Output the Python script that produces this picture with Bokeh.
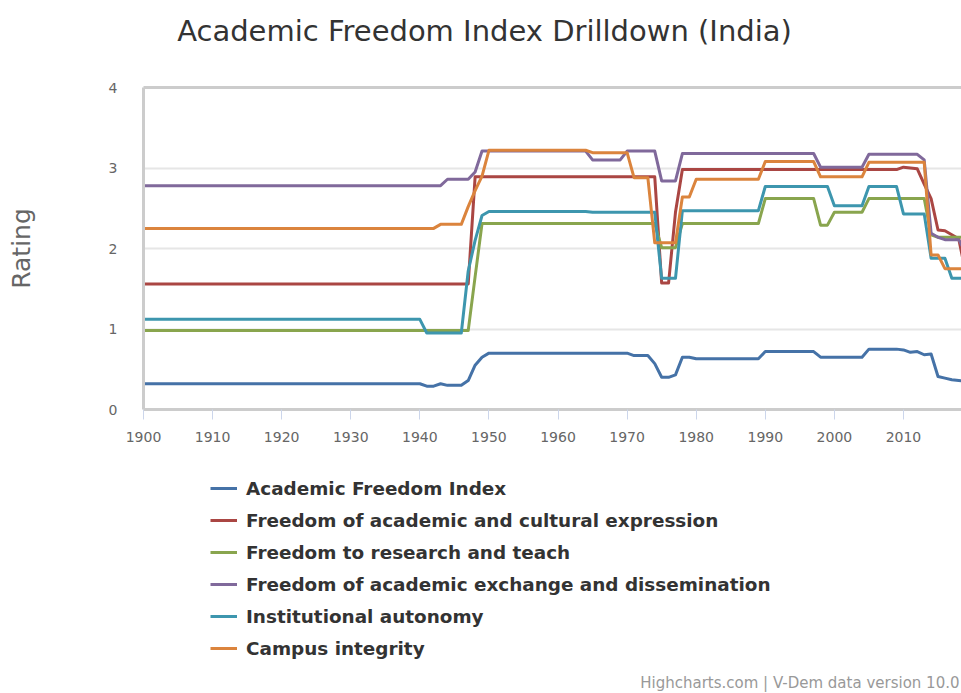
from bokeh.plotting import figure
from bokeh.layouts import column
from bokeh.models import Legend, LegendItem, FixedTicker, LinearAxis, Label, Range1d
from bokeh.embed import file_html
from bokeh.resources import INLINE

years = list(range(1900, 2020))
x_ticks = [1900, 1910, 1920, 1930, 1940, 1950, 1960, 1970, 1980, 1990, 2000, 2010]
y_ticks = [0, 1, 2, 3, 4]

afi = [
    0.32, 0.32, 0.32, 0.32, 0.32, 0.32, 0.32, 0.32, 0.32, 0.32,
    0.32, 0.32, 0.32, 0.32, 0.32, 0.32, 0.32, 0.32, 0.32, 0.32,
    0.32, 0.32, 0.32, 0.32, 0.32, 0.32, 0.32, 0.32, 0.32, 0.32,
    0.32, 0.32, 0.32, 0.32, 0.32, 0.32, 0.32, 0.32, 0.32, 0.32,
    0.32, 0.29, 0.29, 0.32, 0.30, 0.30, 0.30, 0.36, 0.55, 0.65,
    0.70, 0.70, 0.70, 0.70, 0.70, 0.70, 0.70, 0.70, 0.70, 0.70,
    0.70, 0.70, 0.70, 0.70, 0.70, 0.70, 0.70, 0.70, 0.70, 0.70,
    0.70, 0.67, 0.67, 0.67, 0.57, 0.40, 0.40, 0.43, 0.65, 0.65,
    0.63, 0.63, 0.63, 0.63, 0.63, 0.63, 0.63, 0.63, 0.63, 0.63,
    0.72, 0.72, 0.72, 0.72, 0.72, 0.72, 0.72, 0.72, 0.65, 0.65,
    0.65, 0.65, 0.65, 0.65, 0.65, 0.75, 0.75, 0.75, 0.75, 0.75,
    0.74, 0.71, 0.72, 0.68, 0.69, 0.41, 0.39, 0.37, 0.36, 0.35,
]

face = [
    1.56, 1.56, 1.56, 1.56, 1.56, 1.56, 1.56, 1.56, 1.56, 1.56,
    1.56, 1.56, 1.56, 1.56, 1.56, 1.56, 1.56, 1.56, 1.56, 1.56,
    1.56, 1.56, 1.56, 1.56, 1.56, 1.56, 1.56, 1.56, 1.56, 1.56,
    1.56, 1.56, 1.56, 1.56, 1.56, 1.56, 1.56, 1.56, 1.56, 1.56,
    1.56, 1.56, 1.56, 1.56, 1.56, 1.56, 1.56, 1.56, 2.89, 2.89,
    2.89, 2.89, 2.89, 2.89, 2.89, 2.89, 2.89, 2.89, 2.89, 2.89,
    2.89, 2.89, 2.89, 2.89, 2.89, 2.89, 2.89, 2.89, 2.89, 2.89,
    2.89, 2.89, 2.89, 2.89, 2.89, 1.57, 1.57, 2.45, 2.98, 2.98,
    2.98, 2.98, 2.98, 2.98, 2.98, 2.98, 2.98, 2.98, 2.98, 2.98,
    2.98, 2.98, 2.98, 2.98, 2.98, 2.98, 2.98, 2.98, 2.98, 2.98,
    2.98, 2.98, 2.98, 2.98, 2.98, 2.98, 2.98, 2.98, 2.98, 2.98,
    3.01, 3.00, 2.99, 2.80, 2.62, 2.23, 2.22, 2.17, 2.12, 1.70,
]

frt = [
    0.98, 0.98, 0.98, 0.98, 0.98, 0.98, 0.98, 0.98, 0.98, 0.98,
    0.98, 0.98, 0.98, 0.98, 0.98, 0.98, 0.98, 0.98, 0.98, 0.98,
    0.98, 0.98, 0.98, 0.98, 0.98, 0.98, 0.98, 0.98, 0.98, 0.98,
    0.98, 0.98, 0.98, 0.98, 0.98, 0.98, 0.98, 0.98, 0.98, 0.98,
    0.98, 0.98, 0.98, 0.98, 0.98, 0.98, 0.98, 0.98, 1.65, 2.31,
    2.31, 2.31, 2.31, 2.31, 2.31, 2.31, 2.31, 2.31, 2.31, 2.31,
    2.31, 2.31, 2.31, 2.31, 2.31, 2.31, 2.31, 2.31, 2.31, 2.31,
    2.31, 2.31, 2.31, 2.31, 2.31, 2.01, 2.01, 2.01, 2.31, 2.31,
    2.31, 2.31, 2.31, 2.31, 2.31, 2.31, 2.31, 2.31, 2.31, 2.31,
    2.62, 2.62, 2.62, 2.62, 2.62, 2.62, 2.62, 2.62, 2.29, 2.29,
    2.45, 2.45, 2.45, 2.45, 2.45, 2.62, 2.62, 2.62, 2.62, 2.62,
    2.62, 2.62, 2.62, 2.62, 2.17, 2.14, 2.14, 2.14, 2.14, 2.14,
]

faed = [
    2.78, 2.78, 2.78, 2.78, 2.78, 2.78, 2.78, 2.78, 2.78, 2.78,
    2.78, 2.78, 2.78, 2.78, 2.78, 2.78, 2.78, 2.78, 2.78, 2.78,
    2.78, 2.78, 2.78, 2.78, 2.78, 2.78, 2.78, 2.78, 2.78, 2.78,
    2.78, 2.78, 2.78, 2.78, 2.78, 2.78, 2.78, 2.78, 2.78, 2.78,
    2.78, 2.78, 2.78, 2.78, 2.86, 2.86, 2.86, 2.86, 2.95, 3.21,
    3.21, 3.21, 3.21, 3.21, 3.21, 3.21, 3.21, 3.21, 3.21, 3.21,
    3.21, 3.21, 3.21, 3.21, 3.21, 3.10, 3.10, 3.10, 3.10, 3.10,
    3.21, 3.21, 3.21, 3.21, 3.21, 2.84, 2.84, 2.84, 3.18, 3.18,
    3.18, 3.18, 3.18, 3.18, 3.18, 3.18, 3.18, 3.18, 3.18, 3.18,
    3.18, 3.18, 3.18, 3.18, 3.18, 3.18, 3.18, 3.18, 3.01, 3.01,
    3.01, 3.01, 3.01, 3.01, 3.01, 3.17, 3.17, 3.17, 3.17, 3.17,
    3.17, 3.17, 3.17, 3.10, 2.19, 2.14, 2.11, 2.11, 2.11, 1.95,
]

ia = [
    1.12, 1.12, 1.12, 1.12, 1.12, 1.12, 1.12, 1.12, 1.12, 1.12,
    1.12, 1.12, 1.12, 1.12, 1.12, 1.12, 1.12, 1.12, 1.12, 1.12,
    1.12, 1.12, 1.12, 1.12, 1.12, 1.12, 1.12, 1.12, 1.12, 1.12,
    1.12, 1.12, 1.12, 1.12, 1.12, 1.12, 1.12, 1.12, 1.12, 1.12,
    1.12, 0.95, 0.95, 0.95, 0.95, 0.95, 0.95, 1.72, 2.10, 2.41,
    2.46, 2.46, 2.46, 2.46, 2.46, 2.46, 2.46, 2.46, 2.46, 2.46,
    2.46, 2.46, 2.46, 2.46, 2.46, 2.45, 2.45, 2.45, 2.45, 2.45,
    2.45, 2.45, 2.45, 2.45, 2.45, 1.63, 1.63, 1.63, 2.47, 2.47,
    2.47, 2.47, 2.47, 2.47, 2.47, 2.47, 2.47, 2.47, 2.47, 2.47,
    2.77, 2.77, 2.77, 2.77, 2.77, 2.77, 2.77, 2.77, 2.77, 2.77,
    2.53, 2.53, 2.53, 2.53, 2.53, 2.77, 2.77, 2.77, 2.77, 2.77,
    2.43, 2.43, 2.43, 2.43, 1.88, 1.88, 1.88, 1.63, 1.63, 1.63,
]

ci = [
    2.25, 2.25, 2.25, 2.25, 2.25, 2.25, 2.25, 2.25, 2.25, 2.25,
    2.25, 2.25, 2.25, 2.25, 2.25, 2.25, 2.25, 2.25, 2.25, 2.25,
    2.25, 2.25, 2.25, 2.25, 2.25, 2.25, 2.25, 2.25, 2.25, 2.25,
    2.25, 2.25, 2.25, 2.25, 2.25, 2.25, 2.25, 2.25, 2.25, 2.25,
    2.25, 2.25, 2.25, 2.30, 2.30, 2.30, 2.30, 2.52, 2.72, 2.90,
    3.22, 3.22, 3.22, 3.22, 3.22, 3.22, 3.22, 3.22, 3.22, 3.22,
    3.22, 3.22, 3.22, 3.22, 3.22, 3.19, 3.19, 3.19, 3.19, 3.19,
    3.19, 2.88, 2.88, 2.88, 2.07, 2.07, 2.07, 2.07, 2.64, 2.64,
    2.86, 2.86, 2.86, 2.86, 2.86, 2.86, 2.86, 2.86, 2.86, 2.86,
    3.08, 3.08, 3.08, 3.08, 3.08, 3.08, 3.08, 3.08, 2.89, 2.89,
    2.89, 2.89, 2.89, 2.89, 2.89, 3.07, 3.07, 3.07, 3.07, 3.07,
    3.07, 3.07, 3.07, 3.07, 1.92, 1.92, 1.75, 1.75, 1.75, 1.75,
]

series_names = [
    "Academic Freedom Index",
    "Freedom of academic and cultural expression",
    "Freedom to research and teach",
    "Freedom of academic exchange and dissemination",
    "Institutional autonomy",
    "Campus integrity",
]
series_values = [afi, face, frt, faed, ia, ci]
series_colors = ["#4572A7", "#AA4643", "#89A54E", "#80699B", "#3D96AE", "#DB843D"]

title_text = "Academic Freedom Index Drilldown (India)"
credits_text = "Highcharts.com | V-Dem data version 10.0"

FONT = "DejaVu Sans"


def blank_strip(height, y_top, y_bottom):
    f = figure(width=961, height=height, output_backend="svg", toolbar_location=None,
               x_range=Range1d(143, 961), y_range=Range1d(y_bottom, y_top),
               min_border_left=143, min_border_right=0,
               min_border_top=0, min_border_bottom=0)
    f.axis.visible = False
    f.grid.grid_line_color = None
    f.outline_line_color = None
    f.background_fill_color = "white"
    f.border_fill_color = "white"
    f.title.text = ""
    return f


# ---------------- title strip (page y 0..60) ----------------
t = blank_strip(60, 0, 60)
t.add_layout(Label(x=484, y=30, text=title_text, text_align="center",
                   text_baseline="middle", text_font=FONT, text_font_size="29px",
                   text_color="#333333"))

# ---------------- main chart (page y 60..450) ----------------
p = figure(width=961, height=390, output_backend="svg", toolbar_location=None,
           x_range=(1900, 2018.4), y_range=(0, 4),
           min_border_left=143, min_border_right=0,
           min_border_top=27, min_border_bottom=41)
p.title.text = ""
p.outline_line_color = None
p.background_fill_color = "white"
p.border_fill_color = "white"

p.xaxis.ticker = FixedTicker(ticks=x_ticks)
p.xaxis.axis_line_color = "#cccccc"
p.xaxis.axis_line_width = 3
p.xaxis.major_tick_out = 10
p.xaxis.major_tick_in = 0
p.xaxis.major_tick_line_color = "#ccd6eb"
p.xaxis.major_tick_line_width = 1
p.xaxis.minor_tick_line_color = None
p.xaxis.major_label_text_font = FONT
p.xaxis.major_label_text_font_size = "14px"
p.xaxis.major_label_text_color = "#666666"
p.xaxis.major_label_standoff = 12

p.yaxis.ticker = FixedTicker(ticks=y_ticks)
p.yaxis.axis_line_color = "#cccccc"
p.yaxis.axis_line_width = 3
p.yaxis.major_tick_out = 0
p.yaxis.major_tick_in = 0
p.yaxis.minor_tick_line_color = None
p.yaxis.major_label_text_font = FONT
p.yaxis.major_label_text_font_size = "14px"
p.yaxis.major_label_text_color = "#666666"
p.yaxis.major_label_standoff = 26
p.yaxis.axis_label = "Rating"
p.yaxis.axis_label_text_font = FONT
p.yaxis.axis_label_text_font_size = "25px"
p.yaxis.axis_label_text_font_style = "normal"
p.yaxis.axis_label_text_color = "#666666"
p.yaxis.axis_label_standoff = 70

top_axis = LinearAxis(ticker=FixedTicker(ticks=[]), axis_line_color="#cccccc",
                      axis_line_width=3, major_tick_line_color=None,
                      minor_tick_line_color=None)
p.add_layout(top_axis, "above")

p.xgrid.grid_line_color = None
p.ygrid.ticker = FixedTicker(ticks=y_ticks)
p.ygrid.grid_line_color = "#e6e6e6"
p.ygrid.grid_line_width = 2

for vals, col in zip(series_values, series_colors):
    p.line(years, vals, line_color=col, line_width=3, line_join="round")

# ---------------- legend + credits strip (page y 450..693) ----------------
q = blank_strip(243, 450, 693)

items = []
for name, vals, col in zip(series_names, series_values, series_colors):
    # same series drawn in this strip only to feed the legend swatches (out of view)
    r = q.line(years, vals, line_color=col, line_width=3)
    items.append(LegendItem(label=name, renderers=[r]))

legend = Legend(items=items, location=(67, 31), orientation="vertical",
                glyph_width=27, glyph_height=28, label_height=28, spacing=4,
                label_standoff=9, padding=0, margin=0,
                border_line_color=None, background_fill_alpha=0,
                label_text_font=FONT, label_text_font_style="bold",
                label_text_font_size="18.4px", label_text_color="#333333")
q.add_layout(legend)

q.add_layout(Label(x=959, y=682, text=credits_text, text_align="right",
                   text_baseline="middle", text_font=FONT, text_font_size="15px",
                   text_color="#999999"))

layout = column(t, p, q, spacing=0)
open("out.html", "w").write(file_html(layout, INLINE))
